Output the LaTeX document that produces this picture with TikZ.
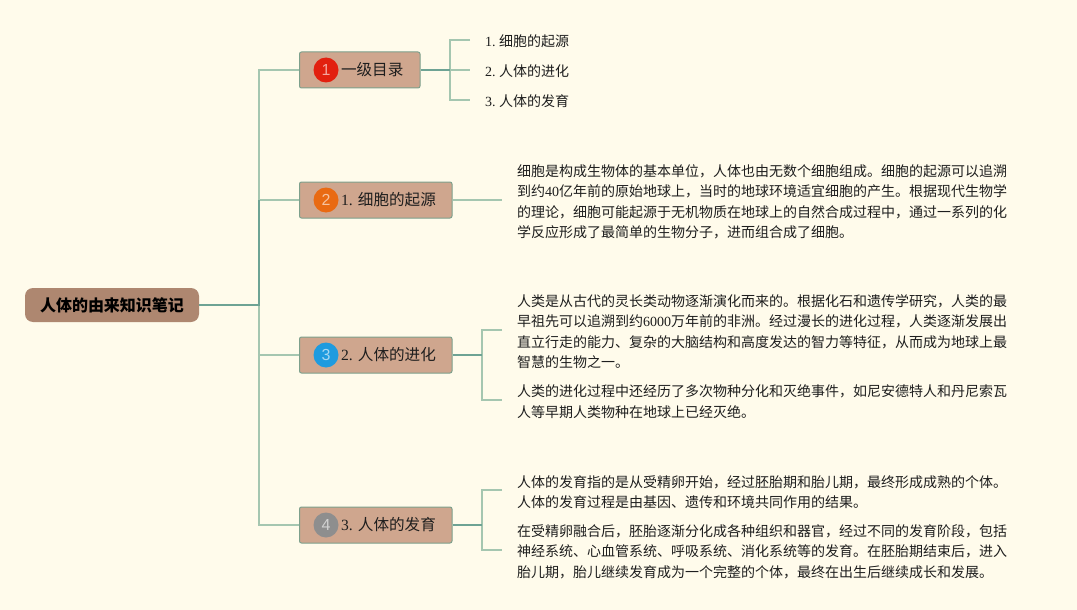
\documentclass[tikz,border=0pt]{standalone}
\usepackage{fontspec}
\setmainfont{Noto Sans CJK SC}
\newfontfamily\serifdigits{Liberation Serif}
\newfontfamily\badgefont{Liberation Sans}
\newcommand{\num}[1]{{\serifdigits\frenchspacing #1}}
\newcommand{\topiclabel}[1]{\hspace*{41.5pt}\raisebox{-0.8pt}{#1}}
\definecolor{paperbg}{HTML}{FFFBEB}
\definecolor{rootfill}{HTML}{AE8770}
\definecolor{topicfill}{HTML}{CFA68E}
\definecolor{topicline}{HTML}{7DA08C}
\definecolor{limblight}{HTML}{A5C6B0}
\definecolor{limbdark}{HTML}{6EA394}
\definecolor{inkdark}{HTML}{1E1E1E}
\definecolor{badgered}{HTML}{E2200F}
\definecolor{badgeorange}{HTML}{E96A12}
\definecolor{badgeblue}{HTML}{1E9BDF}
\definecolor{badgegray}{HTML}{8E8E8E}
\tikzset{
  rootbox/.style={fill=rootfill, rounded corners=8pt, minimum width=174pt, minimum height=34pt,
    inner sep=0pt, text=black, font=\fontsize{16}{20}\selectfont\bfseries},
  topicbox/.style={draw=topicline, fill=topicfill, line width=1pt, rounded corners=2pt, anchor=west,
    minimum height=36pt, inner xsep=0pt, inner ysep=0pt, align=left, text=inkdark,
    font=\fontsize{15.6}{20}\selectfont},
  badge/.style={circle, fill=#1, minimum size=25pt, inner sep=0pt, text=white!60!#1,
    font=\fontsize{16}{18}\badgefont},
  notetext/.style={anchor=west, inner sep=0pt, align=left, text=inkdark,
    font=\fontsize{14}{20.3}\selectfont},
  limb/.style={draw=limblight, line width=1.4pt},
  trunk/.style={draw=limbdark, line width=1.8pt},
}
\begin{document}
\begin{tikzpicture}[x=1pt, y=-1pt]
  \fill[paperbg] (0,0) rectangle (1077,610);
  \useasboundingbox (0,0) rectangle (1077,610);

  % main nodes
  \node[rootbox] (root) at (112,305) {人体的由来知识笔记};
  \node[topicbox, text width=120.5pt] (catalog) at (299,70) {\topiclabel{一级目录}};
  \node[topicbox, text width=152.5pt] (origin) at (299,200) {\topiclabel{\num{1. }细胞的起源}};
  \node[topicbox, text width=152.5pt] (evolve) at (299,355) {\topiclabel{\num{2. }人体的进化}};
  \node[topicbox, text width=152.5pt] (growth) at (299,525) {\topiclabel{\num{3. }人体的发育}};

  \node[badge=badgered] (badgeone) at (326,70) {1};
  \node[badge=badgeorange] (badgetwo) at (326,200) {2};
  \node[badge=badgeblue] (badgethree) at (326,355) {3};
  \node[badge=badgegray] (badgefour) at (326,525) {4};

  % catalog entries
  \node[notetext] (entryone) at (485,41.5) {\num{1. }细胞的起源};
  \node[notetext] (entrytwo) at (485,71.5) {\num{2. }人体的进化};
  \node[notetext] (entrythree) at (485,101.5) {\num{3. }人体的发育};

  % notes
  \node[notetext] (noteorigin) at (517,201.7) {细胞是构成生物体的基本单位，人体也由无数个细胞组成。细胞的起源可以追溯\\
    到约\num{40}亿年前的原始地球上，当时的地球环境适宜细胞的产生。根据现代生物学\\
    的理论，细胞可能起源于无机物质在地球上的自然合成过程中，通过一系列的化\\
    学反应形成了最简单的生物分子，进而组合成了细胞。};
  \node[notetext] (noteevolvea) at (517,331.7) {人类是从古代的灵长类动物逐渐演化而来的。根据化石和遗传学研究，人类的最\\
    早祖先可以追溯到约\num{6000}万年前的非洲。经过漫长的进化过程，人类逐渐发展出\\
    直立行走的能力、复杂的大脑结构和高度发达的智力等特征，从而成为地球上最\\
    智慧的生物之一。};
  \node[notetext] (noteevolveb) at (517,401.7) {人类的进化过程中还经历了多次物种分化和灭绝事件，如尼安德特人和丹尼索瓦\\
    人等早期人类物种在地球上已经灭绝。};
  \node[notetext] (notegrowtha) at (517,492) {人体的发育指的是从受精卵开始，经过胚胎期和胎儿期，最终形成成熟的个体。\\
    人体的发育过程是由基因、遗传和环境共同作用的结果。};
  \node[notetext] (notegrowthb) at (517,551.7) {在受精卵融合后，胚胎逐渐分化成各种组织和器官，经过不同的发育阶段，包括\\
    神经系统、心血管系统、呼吸系统、消化系统等的发育。在胚胎期结束后，进入\\
    胎儿期，胎儿继续发育成为一个完整的个体，最终在出生后继续成长和发展。};

  % connector ends
  \coordinate (spine) at (259,305);
  \coordinate (catalogfork) at (450,70);
  \coordinate (evolvefork) at (482,355);
  \coordinate (growthfork) at (482,525);
  \coordinate (entryonetip) at (470,40);
  \coordinate (entrytwotip) at (470,70);
  \coordinate (entrythreetip) at (470,100);
  \coordinate (origintip) at (502,200);
  \coordinate (evolveatip) at (502,330);
  \coordinate (evolvebtip) at (502,400);
  \coordinate (growthatip) at (502,490);
  \coordinate (growthbtip) at (502,550);

  % connectors
  \draw[limb] (spine) |- (catalog.west);
  \draw[limb] (spine) |- (growth.west);
  \draw[limb] (spine |- origin) -- (origin.west);
  \draw[limb] (spine |- evolve) -- (evolve.west);
  \draw[trunk] (root.east) -- (spine) -- (spine |- origin);
  \draw[limb] (entryonetip) -| (catalogfork) |- (entrythreetip);
  \draw[limb] (catalogfork) -- (entrytwotip);
  \draw[trunk] (catalog.east) -- (catalogfork);
  \draw[limb] (origin.east) -- (origintip);
  \draw[limb] (evolveatip) -| (evolvefork) |- (evolvebtip);
  \draw[trunk] (evolve.east) -- (evolvefork);
  \draw[limb] (growthatip) -| (growthfork) |- (growthbtip);
  \draw[trunk] (growth.east) -- (growthfork);
\end{tikzpicture}
\end{document}
